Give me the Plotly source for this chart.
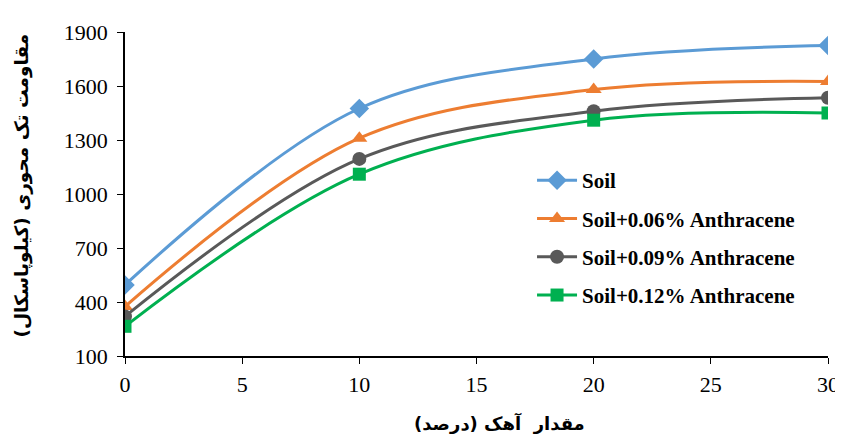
import plotly.graph_objects as go

lime_pct = [0, 10, 20, 30]
soil = [495, 1475, 1750, 1825]
soil_006 = [375, 1310, 1580, 1625]
soil_009 = [320, 1195, 1460, 1535]
soil_012 = [265, 1110, 1410, 1450]

series_names = ["Soil", "Soil+0.06% Anthracene", "Soil+0.09% Anthracene", "Soil+0.12% Anthracene"]
series_values = [soil, soil_006, soil_009, soil_012]
colors = ["#5B9BD5", "#ED7D31", "#595959", "#00B050"]
symbols = ["diamond", "triangle-up", "circle", "square"]
sizes = [15, 14, 14, 13]

x_title = "مقدار  آهک (درصد)"
y_title = "مقاومت تک محوری (کیلوپاسکال)"

SERIF = "Liberation Serif"

fig = go.Figure()
for i, (name, vals, c, s, sz) in enumerate(zip(series_names, series_values, colors, symbols, sizes)):
    fig.add_trace(go.Scatter(
        x=lime_pct, y=vals, name="<b>" + name + "</b>",
        legendgroup=str(i),
        mode="lines+markers",
        line=dict(color=c, width=3, shape="spline", smoothing=1.0),
        marker=dict(symbol=s, size=sz, color=c),
    ))

fig.update_layout(
    width=843, height=436,
    margin=dict(l=117, r=22, t=14, b=88),
    plot_bgcolor="white", paper_bgcolor="white",
    font=dict(family=SERIF, size=22, color="black"),
    legend=dict(
        x=0.579, y=0.605, xanchor="left", yanchor="top",
        font=dict(family=SERIF, size=21, color="black"),
        bgcolor="rgba(0,0,0,0)", tracegroupgap=8, itemwidth=40,
    ),
    showlegend=True,
    annotations=[
        dict(text="<b>" + x_title + "</b>", xref="paper", yref="paper",
             x=(500 - 125) / 704, y=-(425 - 356) / 334, xanchor="center", yanchor="middle",
             showarrow=False, font=dict(family="DejaVu Sans", size=18, color="black")),
        dict(text="<b>" + y_title + "</b>", xref="paper", yref="paper",
             x=-(125 - 22) / 704, y=(356 - 180) / 334, xanchor="center", yanchor="middle",
             textangle=-90, showarrow=False, font=dict(family="DejaVu Sans", size=18.5, color="black")),
    ],
)
fig.update_xaxes(
    range=[0, 30], tickvals=[0, 5, 10, 15, 20, 25, 30],
    showline=True, linecolor="black", linewidth=1.5,
    ticks="outside", ticklen=6, tickcolor="black", showgrid=False, zeroline=False,
    ticklabelstandoff=2,
)
fig.update_yaxes(
    range=[100, 1900], tickvals=[100, 400, 700, 1000, 1300, 1600, 1900],
    showline=True, linecolor="black", linewidth=1.5,
    ticks="outside", ticklen=6, tickcolor="black", showgrid=False, zeroline=False,
    ticklabelstandoff=5,
)

fig.write_html("out.html")
